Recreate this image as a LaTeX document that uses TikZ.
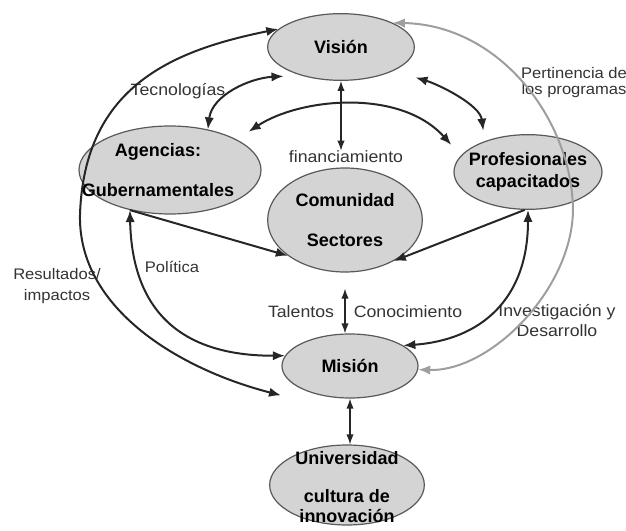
\documentclass[tikz,border=0pt]{standalone}
\usepackage{fontspec}
\setmainfont{Liberation Sans}
\newfontfamily\lblfont{Liberation Sans}[FakeStretch=1.08]
\usetikzlibrary{shapes.geometric,arrows.meta}

\tikzset{
  blob/.style={ellipse,draw=black!65,fill=black!17,line width=0.9pt,inner sep=0pt},
  btxt/.style={font=\fontsize{13.5}{16}\selectfont\bfseries,align=center,inner sep=0pt},
  lbl/.style={font=\lblfont\fontsize{12.3}{15}\selectfont,text=black!80,align=center,inner sep=0pt},
  lblsmall/.style={lbl,font=\lblfont\fontsize{11.5}{15}\selectfont},
  link/.style={draw=black!85,line width=1.5pt},
  thinlink/.style={draw=black!85,line width=1pt,>={Latex[length=7.5pt,width=5.5pt]}},
  greylink/.style={draw=black!38,line width=1.5pt}
}

\begin{document}
\begin{tikzpicture}[x=0.75pt,y=-0.75pt,>={Latex[length=9pt,width=7pt]}]
\useasboundingbox (0,0) rectangle (626,531);

% ellipses
\node[blob,minimum width=110pt,minimum height=50pt] (vis) at (341,47) {};
\node[blob,minimum width=136.5pt,minimum height=66pt] (ag) at (170,170) {};
\node[blob,minimum width=116pt,minimum height=78pt] (com) at (345,220) {};
\node[blob,minimum width=111pt,minimum height=56pt] (prof) at (528,172) {};
\node[blob,minimum width=102pt,minimum height=48pt] (mis) at (350,366) {};
\node[blob,minimum width=116pt,minimum height=60pt] (uni) at (347,485) {};

% texts of the ellipses
\node[btxt] (vist) at (vis) {Visión};
\node[btxt] (agt) at ([xshift=-9pt]ag) {Agencias:\\[14pt]Gubernamentales};
\node[btxt] (comt) at (com) {Comunidad\\[14pt]Sectores};
\node[btxt] (proft) at (prof) {Profesionales\\[1pt]capacitados};
\node[btxt] (mist) at (mis) {Misión};
\node[btxt,anchor=north] (unit) at (347,451) {Universidad\\[13pt]cultura de\\[-1.5pt]innovación};

% labels
\node[lbl] (tec) at (178,91) {Tecnologías};
\node[lbl] (fin) at (346,157) {financiamiento};
\node[lblsmall] (pert) at (574,83) {Pertinencia de\\[-3pt]los programas};
\node[lblsmall] (res) at (57,286) {Resultados/\\[1pt]impactos};
\node[lblsmall] (pol) at (172,267) {Política};
\node[lbl] (tal) at (301,312) {Talentos};
\node[lbl] (con) at (408,312) {Conocimiento};
\node[lbl] (inv) at (557,321) {Investigación y\\Desarrollo};

% outer arcs
\draw[link,<->] (vis.164) .. controls (175,50) and (84,85) .. (80,215)
  .. controls (78,310) and (182,370) .. ([shift={(-20,6.5)}]mis.205);
\draw[greylink,<->] (vis.25) .. controls (500,25) and (572,120) .. (573,210)
  .. controls (572,290) and (490,372) .. (mis.-3);

% inner arcs
\draw[link,<->] (ag.47) .. controls (212,95) and (250,78) .. ([shift={(-8,4)}]vis.207);
\draw[link,<->] ([shift={(12.5,-7.5)}]ag.25) .. controls (300,98) and (400,88) .. ([shift={(-16,-5)}]prof.160);
\draw[link,<->] ([shift={(19,8)}]vis.-22) .. controls (440,85) and (480,105) .. ([shift={(-9,-8)}]prof.137);
\draw[link,<->] (ag.225) .. controls (132,310) and (180,356) .. (mis.171);
\draw[link,<->] (prof.270) .. controls (528,300) and (480,340) .. (mis.21);

% straight ones
\draw[link,->] (ag.225) -- (com.212);
\draw[link,->] (prof.265) -- (com.-40);
\draw[thinlink,<->] (vis.south) -- (vis.south |- fin.north);
\draw[thinlink,<->] ([yshift=-12pt]com.south) -- (com.south |- mis.north);
\draw[thinlink,<->] (mis.south) -- (mis.south |- uni.north);
\end{tikzpicture}
\end{document}
